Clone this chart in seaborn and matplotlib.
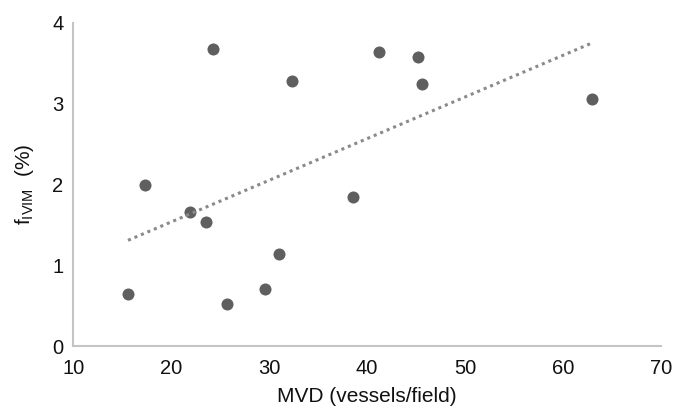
import matplotlib
matplotlib.use("Agg")
import matplotlib.pyplot as plt
import numpy as np
import pandas as pd
import seaborn as sns

# values
mvd = [15.6, 17.3, 24.3, 21.9, 23.6, 32.3, 31.0, 29.6, 25.7, 41.2, 45.2, 45.6, 63.0, 38.6]
f_ivim = [0.64, 1.99, 3.68, 1.66, 1.54, 3.28, 1.14, 0.70, 0.52, 3.64, 3.58, 3.24, 3.06, 1.85]
x_ticks = [10, 20, 30, 40, 50, 60, 70]
y_ticks = [0, 1, 2, 3, 4]

df = pd.DataFrame({"mvd": mvd, "f": f_ivim})

sns.set_theme(style="white")
plt.rcParams["font.family"] = ["Liberation Sans", "DejaVu Sans"]
plt.rcParams["mathtext.fontset"] = "custom"
plt.rcParams["mathtext.rm"] = "Liberation Sans"
plt.rcParams["mathtext.default"] = "regular"

fig = plt.figure(figsize=(6.9, 4.09), dpi=100)
ax = fig.add_axes([0.106, 0.154, 0.852, 0.790])

sns.regplot(
    data=df, x="mvd", y="f", ax=ax, ci=None,
    scatter_kws={"s": 75, "color": "#5f5f5f", "alpha": 1, "linewidths": 0},
    line_kws={"color": "#8a8a8a", "lw": 2.2, "ls": (0, (1, 1.3))},
)

ax.set_xlim(10, 70)
ax.set_ylim(0, 4)
ax.set_xticks(x_ticks)
ax.set_yticks(y_ticks)
ax.tick_params(axis="both", length=0, labelsize=14.5, colors="#111111")
ax.tick_params(axis="x", pad=9)
ax.tick_params(axis="y", pad=7)
for side in ["top", "right"]:
    ax.spines[side].set_visible(False)
for side in ["left", "bottom"]:
    ax.spines[side].set_color("#c4c4c4")
    ax.spines[side].set_linewidth(1.5)

ax.set_xlabel("MVD (vessels/field)", fontsize=15, labelpad=7, color="#111111")
ax.set_ylabel(r"f$_{IVIM}$  (%)", fontsize=15, labelpad=12, color="#111111")

fig.savefig("out.png", dpi=100)
